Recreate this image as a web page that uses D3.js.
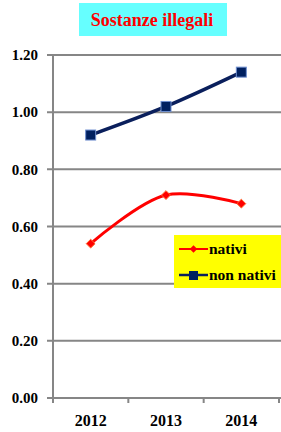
<!DOCTYPE html>
<html>
<head>
<meta charset="utf-8">
<script src="https://cdn.jsdelivr.net/npm/d3@7"></script>
<style>
body{margin:0;background:#fff;}
svg{display:block;}
</style>
</head>
<body>
<div id="chart"></div>
<script>
var years = ["2012","2013","2014"];
var nativi = [0.54,0.71,0.68];
var nonNativi = [0.92,1.02,1.14];
var yTicks = [0,0.2,0.4,0.6,0.8,1.0,1.2];

var W = 281, H = 432;
var FONT = "'Liberation Serif','Times New Roman',serif";
var svg = d3.select("#chart").append("svg")
  .attr("width",W).attr("height",H);

var x = d3.scaleBand().domain(years).range([53,279]);
var y = d3.scaleLinear().domain([0,1.2]).range([398,55]);

// title
svg.append("rect").attr("x",79).attr("y",3).attr("width",148).attr("height",33)
  .style("fill","#66ffff");
svg.append("text").attr("x",152).attr("y",26).attr("text-anchor","middle")
  .style("font-family",FONT).style("font-weight","bold")
  .style("font-size","18px").style("fill","#ff0000").text("Sostanze illegali");

// grid
svg.append("g").selectAll("line").data(yTicks).enter().append("line")
  .attr("x1",47).attr("x2",281)
  .attr("y1",function(d){return y(d);}).attr("y2",function(d){return y(d);})
  .style("stroke","#868686").style("stroke-width",2);

var yAxis = svg.append("g").attr("transform","translate(53,0)")
  .call(d3.axisLeft(y).tickValues(yTicks).tickFormat(d3.format(".2f")).tickSize(0).tickPadding(15));
yAxis.select(".domain").remove();
yAxis.selectAll("text").style("font-family",FONT)
  .style("font-size","15px").style("font-weight","bold").style("fill","#000");

svg.append("line").attr("x1",53).attr("x2",53).attr("y1",y(1.2)).attr("y2",403)
  .style("stroke","#868686").style("stroke-width",2);

var xAxis = svg.append("g").attr("transform","translate(0,398)")
  .call(d3.axisBottom(x).tickSize(0).tickPadding(17));
xAxis.select(".domain").remove();
xAxis.selectAll("text").style("font-family",FONT)
  .style("font-size","16px").style("font-weight","bold").style("fill","#000");
svg.append("g").selectAll("line").data(years).enter().append("line")
  .attr("x1",function(d){return x(d)+x.step();})
  .attr("x2",function(d){return x(d)+x.step();})
  .attr("y1",398).attr("y2",403)
  .style("stroke","#868686").style("stroke-width",2);

var cx = function(d,i){return x(years[i])+x.bandwidth()/2;};

// non nativi
svg.append("path").datum(nonNativi)
  .attr("d",d3.line().x(cx).y(function(d){return y(d);}).curve(d3.curveCatmullRom))
  .style("fill","none").style("stroke","#0a1f5c").style("stroke-width",3.5);
svg.append("g").selectAll("rect").data(nonNativi).enter().append("rect")
  .attr("x",function(d,i){return cx(d,i)-5;}).attr("y",function(d){return y(d)-5;})
  .attr("width",10).attr("height",10)
  .style("fill","#002060").style("stroke","#6f8fd0").style("stroke-width",1);

// nativi
svg.append("path").datum(nativi)
  .attr("d",d3.line().x(cx).y(function(d){return y(d);}).curve(d3.curveCatmullRom))
  .style("fill","none").style("stroke","#ff0000").style("stroke-width",3);
var diamond = d3.symbol().type(d3.symbolDiamond2).size(50);
svg.append("g").selectAll("path").data(nativi).enter().append("path")
  .attr("d",diamond)
  .attr("transform",function(d,i){return "translate("+cx(d,i)+","+y(d)+")";})
  .style("fill","#ff0000").style("stroke","#ff6a30").style("stroke-width",1);

// legend
var lg = svg.append("g");
lg.append("rect").attr("x",174).attr("y",235).attr("width",107).attr("height",53)
  .style("fill","#ffff00");
lg.append("line").attr("x1",179).attr("x2",208).attr("y1",249).attr("y2",249)
  .style("stroke","#ff0000").style("stroke-width",2);
lg.append("path").attr("d",d3.symbol().type(d3.symbolDiamond2).size(36)())
  .attr("transform","translate(193.5,249)").style("fill","#ff0000");
lg.append("line").attr("x1",179).attr("x2",208).attr("y1",275).attr("y2",275)
  .style("stroke","#0a1f5c").style("stroke-width",2.5);
lg.append("rect").attr("x",189).attr("y",271).attr("width",9).attr("height",9)
  .style("fill","#002060");
lg.selectAll("text").data(["nativi","non nativi"]).enter().append("text")
  .attr("x",209).attr("y",function(d,i){return 254+i*26;})
  .style("font-family",FONT).style("font-weight","bold")
  .style("font-size","15.5px").style("fill","#000").text(function(d){return d;});
</script>
</body>
</html>
